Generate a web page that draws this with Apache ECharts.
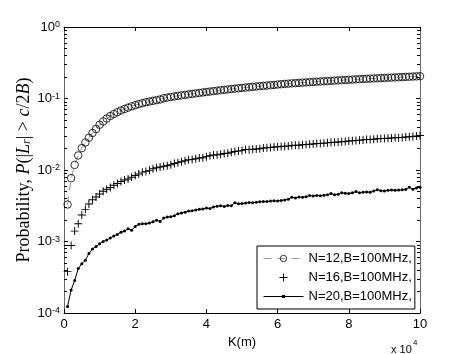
<!DOCTYPE html>
<html>
<head>
<meta charset="utf-8">
<script src="https://cdn.jsdelivr.net/npm/echarts@6/dist/echarts.min.js"></script>
<style>
  html, body { margin: 0; padding: 0; background: #fff; }
  #chart { width: 463px; height: 354px; }
</style>
</head>
<body>
<div id="chart"></div>
<script>
// K in units of 10^4 m
const K = [
  0.1, 0.2, 0.3, 0.4, 0.5, 0.6, 0.7, 0.8, 0.9, 1.0,
  1.1, 1.2, 1.3, 1.4, 1.5, 1.6, 1.7, 1.8, 1.9, 2.0,
  2.1, 2.2, 2.3, 2.4, 2.5, 2.6, 2.7, 2.8, 2.9, 3.0,
  3.1, 3.2, 3.3, 3.4, 3.5, 3.6, 3.7, 3.8, 3.9, 4.0,
  4.1, 4.2, 4.3, 4.4, 4.5, 4.6, 4.7, 4.8, 4.9, 5.0,
  5.1, 5.2, 5.3, 5.4, 5.5, 5.6, 5.7, 5.8, 5.9, 6.0,
  6.1, 6.2, 6.3, 6.4, 6.5, 6.6, 6.7, 6.8, 6.9, 7.0,
  7.1, 7.2, 7.3, 7.4, 7.5, 7.6, 7.7, 7.8, 7.9, 8.0,
  8.1, 8.2, 8.3, 8.4, 8.5, 8.6, 8.7, 8.8, 8.9, 9.0,
  9.1, 9.2, 9.3, 9.4, 9.5, 9.6, 9.7, 9.8, 9.9, 10.0
];

// N=12, B=100MHz
const pN12 = [
  0.0033, 0.0077, 0.0118, 0.0160, 0.0203, 0.0243, 0.0283, 0.0330, 0.0375, 0.0430,
  0.0478, 0.0525, 0.0570, 0.0608, 0.0645, 0.0680, 0.0714, 0.0746, 0.0778, 0.0808,
  0.0836, 0.0862, 0.0886, 0.0908, 0.0930, 0.0950, 0.0970, 0.1010, 0.1030, 0.1050,
  0.1070, 0.1090, 0.1108, 0.1126, 0.1144, 0.1162, 0.1180, 0.1198, 0.1216, 0.1234,
  0.1252, 0.1270, 0.1288, 0.1306, 0.1323, 0.1340, 0.1357, 0.1374, 0.1391, 0.1408,
  0.1425, 0.1441, 0.1457, 0.1473, 0.1489, 0.1504, 0.1519, 0.1534, 0.1549, 0.1570,
  0.1585, 0.1600, 0.1614, 0.1628, 0.1642, 0.1655, 0.1668, 0.1681, 0.1694, 0.1707,
  0.1720, 0.1732, 0.1744, 0.1756, 0.1768, 0.1780, 0.1792, 0.1804, 0.1816, 0.1828,
  0.1840, 0.1852, 0.1864, 0.1875, 0.1886, 0.1897, 0.1908, 0.1919, 0.1930, 0.1941,
  0.1952, 0.1963, 0.1974, 0.1985, 0.1996, 0.2007, 0.2018, 0.2029, 0.2040, 0.2051
];

// N=16, B=100MHz
const pN16 = [
  0.00038, 0.00088, 0.00140, 0.00178, 0.00236, 0.00282, 0.00335, 0.00385, 0.00420, 0.00462,
  0.00505, 0.00540, 0.00572, 0.00612, 0.00650, 0.00690, 0.00728, 0.00752, 0.00795, 0.00838,
  0.00880, 0.00935, 0.00958, 0.00990, 0.01040, 0.01075, 0.01105, 0.01130, 0.01148, 0.01190,
  0.01232, 0.01270, 0.01310, 0.01350, 0.01395, 0.01410, 0.01438, 0.01470, 0.01482, 0.01540,
  0.01585, 0.01620, 0.01632, 0.01668, 0.01705, 0.01722, 0.01768, 0.01822, 0.01850, 0.01870,
  0.01935, 0.01930, 0.01950, 0.01975, 0.01990, 0.02035, 0.02045, 0.02065, 0.02095, 0.02120,
  0.02140, 0.02150, 0.02175, 0.02200, 0.02215, 0.02228, 0.02255, 0.02280, 0.02300, 0.02315,
  0.02345, 0.02360, 0.02370, 0.02400, 0.02425, 0.02440, 0.02470, 0.02485, 0.02510, 0.02540,
  0.02560, 0.02585, 0.02610, 0.02640, 0.02665, 0.02680, 0.02700, 0.02730, 0.02755, 0.02770,
  0.02790, 0.02805, 0.02825, 0.02840, 0.02860, 0.02890, 0.02920, 0.02950, 0.02990, 0.03050
];

// N=20, B=100MHz
const pN20 = [
  0.000124, 0.000210, 0.000285, 0.000420, 0.000490, 0.000550, 0.000680, 0.000790, 0.000850, 0.000930,
  0.001000, 0.001050, 0.001120, 0.001200, 0.001260, 0.001350, 0.001400, 0.001510, 0.001440, 0.001630,
  0.001740, 0.001780, 0.001780, 0.001820, 0.001900, 0.001990, 0.001910, 0.002130, 0.002200, 0.002230,
  0.002300, 0.002450, 0.002500, 0.002580, 0.002670, 0.002700, 0.002760, 0.002820, 0.002850, 0.002940,
  0.002900, 0.003050, 0.003120, 0.003170, 0.003100, 0.003200, 0.003170, 0.003500, 0.003380, 0.003400,
  0.003450, 0.003520, 0.003480, 0.003560, 0.003600, 0.003640, 0.003620, 0.003680, 0.003710, 0.003700,
  0.003760, 0.003820, 0.003900, 0.004170, 0.004080, 0.004200, 0.004150, 0.004250, 0.004400, 0.004350,
  0.004400, 0.004380, 0.004450, 0.004500, 0.004700, 0.004500, 0.004600, 0.004800, 0.004750, 0.004700,
  0.004800, 0.005000, 0.004800, 0.004900, 0.004950, 0.004900, 0.005100, 0.005300, 0.005150, 0.005100,
  0.005200, 0.005250, 0.005200, 0.005250, 0.005300, 0.005350, 0.005750, 0.005400, 0.005600, 0.005750
];

const seriesNames = ['N=12,B=100MHz,', 'N=16,B=100MHz,', 'N=20,B=100MHz,'];

// minor ticks of the log axis (2..9 in each decade)
const decades = [1e-4, 1e-3, 1e-2, 1e-1];
const minorSteps = [2, 3, 4, 5, 6, 7, 8, 9];
const minorTicks = [];
decades.forEach(d => minorSteps.forEach(m => minorTicks.push(+(d * m).toPrecision(3))));

const zip = (xs, ys) => xs.map((x, i) => [x, ys[i]]);

const SANS = 'Liberation Sans';
const SERIF = 'Liberation Serif';
const plusPath = 'path://M0,4.4L10,4.4L10,5.6L0,5.6Z M4.4,0L5.6,0L5.6,10L4.4,10Z';
const lineDotPath = 'path://M0,1.1L40,1.1L40,1.9L0,1.9Z M18.5,0L21.5,0L21.5,3L18.5,3Z';

const chart = echarts.init(document.getElementById('chart'), null, { renderer: 'canvas' });

const baseLogAxis = {
  type: 'log',
  logBase: 10,
  min: 1e-4,
  max: 1,
  splitLine: { show: false },
  axisLabel: { show: false },
  axisLine: { show: false },
  axisTick: { show: false }
};

chart.setOption({
  animation: false,
  backgroundColor: '#fff',
  grid: { left: 64, right: 43, top: 27, bottom: 39 },
  xAxis: [
    {
      type: 'value',
      min: 0,
      max: 10,
      interval: 2,
      position: 'bottom',
      name: 'K(m)',
      nameLocation: 'middle',
      nameGap: 22,
      nameTextStyle: { fontFamily: SANS, fontSize: 13, color: '#000' },
      axisLine: { lineStyle: { color: '#000', width: 1 } },
      axisTick: { inside: true, length: 4, lineStyle: { color: '#000' } },
      axisLabel: { fontFamily: SANS, fontSize: 13, color: '#000', margin: 5 },
      splitLine: { show: false }
    },
    {
      type: 'value',
      min: 0,
      max: 10,
      interval: 2,
      position: 'top',
      axisLine: { lineStyle: { color: '#000', width: 1 } },
      axisTick: { inside: true, length: 4, lineStyle: { color: '#000' } },
      axisLabel: { show: false },
      splitLine: { show: false }
    }
  ],
  yAxis: [
    {
      ...baseLogAxis,
      position: 'left',
      axisLine: { show: true, lineStyle: { color: '#666', width: 1 } },
      axisTick: { show: true, inside: true, length: 4, lineStyle: { color: '#000' } },
      axisLabel: {
        show: true,
        margin: 4,
        formatter: v => '{b|10}{s|' + Math.round(Math.log10(v)) + '}',
        rich: {
          b: { fontFamily: SANS, fontSize: 13, color: '#000', lineHeight: 14 },
          s: { fontFamily: SANS, fontSize: 9, color: '#000', verticalAlign: 'top', lineHeight: 10 }
        }
      }
    },
    {
      ...baseLogAxis,
      position: 'left',
      axisTick: { show: true, inside: true, length: 3, customValues: minorTicks, lineStyle: { color: '#000' } }
    },
    {
      ...baseLogAxis,
      position: 'right',
      axisLine: { show: true, lineStyle: { color: '#666', width: 1 } },
      axisTick: { show: true, inside: true, length: 4, lineStyle: { color: '#000' } }
    },
    {
      ...baseLogAxis,
      position: 'right',
      axisTick: { show: true, inside: true, length: 3, customValues: minorTicks, lineStyle: { color: '#000' } }
    }
  ],
  legend: {
    orient: 'vertical',
    left: 257,
    top: 246,
    padding: [6, 3, 6, 6],
    itemWidth: 40,
    itemHeight: 8,
    itemGap: 6,
    backgroundColor: '#fff',
    borderColor: '#000',
    borderWidth: 1,
    borderRadius: 0,
    textStyle: { fontFamily: SANS, fontSize: 13, color: '#000' },
    data: [
      {
        name: seriesNames[0],
        itemStyle: { color: 'transparent', borderColor: '#000', borderWidth: 0.8 },
        lineStyle: { color: '#999', width: 1, type: [8, 6] }
      },
      { name: seriesNames[1], icon: plusPath },
      { name: seriesNames[2], icon: lineDotPath }
    ]
  },
  graphic: [
    {
      // y axis title, rotated
      type: 'text',
      x: 24,
      y: 170,
      rotation: Math.PI / 2,
      style: {
        text: '{t|Probability, }{i|P}{t|(|}{i|L}{r|r}{t|| > }{i|c}{t|/2}{i|B}{t|)}',
        align: 'center',
        verticalAlign: 'middle',
        rich: {
          t: { fontFamily: SERIF, fontSize: 18, fill: '#000' },
          i: { fontFamily: SERIF, fontSize: 18, fontStyle: 'italic', fill: '#000' },
          r: { fontFamily: SERIF, fontSize: 12, fontStyle: 'italic', fill: '#000', verticalAlign: 'bottom', lineHeight: 12 }
        }
      }
    },
    { type: 'text', left: 391, top: 344, style: { text: 'x 10', font: '11px "Liberation Sans"', fill: '#000' } },
    { type: 'text', left: 413, top: 339, style: { text: '4', font: '8px "Liberation Sans"', fill: '#000' } }
  ],
  series: [
    {
      name: seriesNames[0],
      type: 'line',
      data: zip(K, pN12),
      symbol: 'circle',
      symbolSize: 7.5,
      showAllSymbol: true,
      itemStyle: { color: 'transparent', borderColor: '#000', borderWidth: 0.8 },
      lineStyle: { color: '#777', width: 0.8, type: [8, 6] },
      emphasis: { disabled: true }
    },
    {
      name: seriesNames[1],
      type: 'line',
      data: zip(K, pN16),
      symbol: plusPath,
      symbolSize: 8,
      showAllSymbol: true,
      itemStyle: { color: '#000' },
      lineStyle: { width: 0, opacity: 0 },
      emphasis: { disabled: true }
    },
    {
      name: seriesNames[2],
      type: 'line',
      data: zip(K, pN20),
      symbol: 'circle',
      symbolSize: 3,
      showAllSymbol: true,
      itemStyle: { color: '#000' },
      lineStyle: { color: '#000', width: 1 },
      emphasis: { disabled: true }
    }
  ]
});
</script>
</body>
</html>
